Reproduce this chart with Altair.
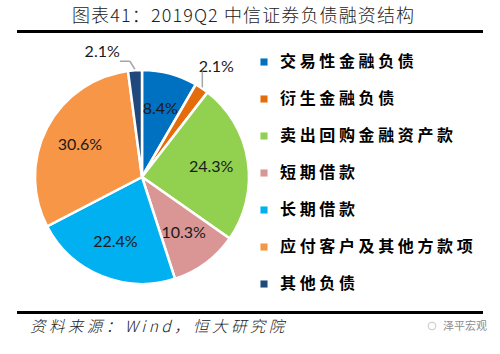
import altair as alt
import pandas as pd

categories = ["交易性金融负债", "衍生金融负债", "卖出回购金融资产款", "短期借款",
              "长期借款", "应付客户及其他方款项", "其他负债"]
values = [8.4, 2.1, 24.3, 10.3, 22.4, 30.6, 2.1]
labels = ["8.4%", "2.1%", "24.3%", "10.3%", "22.4%", "30.6%", "2.1%"]
colors = ["#0070C0", "#E46C0A", "#92D050", "#D99694", "#00B0F0", "#F79646", "#1F497D"]
title_text = "图表41：2019Q2 中信证券负债融资结构"
source_text = "资料来源：Wind，恒大研究院"
watermark = "泽平宏观"

df = pd.DataFrame({"cat": categories, "value": values, "label": labels,
                   "idx": list(range(len(categories)))})

CX, CY, R = 142, 177, 107
CJK = "Noto Sans CJK SC"

color = alt.Color(
    "cat:N",
    scale=alt.Scale(domain=categories, range=colors),
    sort=categories,
    legend=alt.Legend(
        orient="none", legendX=256, legendY=54, title=None,
        symbolType="square", symbolSize=50, symbolStrokeWidth=0,
        labelFont=CJK, labelFontSize=16, labelFontWeight="bold", labelColor="#000000",
        labelLimit=300, rowPadding=21, labelOffset=8,
        labelExpr="join(split(datum.label, ''), ' ')",
    ),
)

base = alt.Chart(df).encode(
    theta=alt.Theta("value:Q", stack=True),
    order=alt.Order("idx:Q"),
    x=alt.value(CX),
    y=alt.value(CY),
)

arcs = base.mark_arc(outerRadius=R, stroke="white", strokeWidth=2.5).encode(color=color)

inner = base.transform_calculate(
    t="datum.value > 5 ? datum.label : ''"
).mark_text(radius=70, font="Lato", fontSize=16, color="#1a1a1a").encode(text="t:N")

outer1 = base.transform_calculate(
    t="datum.idx == 1 ? datum.label : ''"
).mark_text(radius=133, font="Lato", fontSize=16, color="#1a1a1a").encode(text="t:N")

outer2 = base.transform_calculate(
    t="datum.idx == 6 ? datum.label : ''"
).mark_text(radius=125, font="Lato", fontSize=16, color="#1a1a1a",
            align="right", dx=-14).encode(text="t:N")

lead = alt.Chart(df).transform_joinaggregate(
    total="sum(value)"
).transform_window(
    cum="sum(value)", sort=[alt.SortField("idx")], frame=[None, 0]
).transform_calculate(
    a="2*PI*(datum.cum - datum.value/2)/datum.total"
).transform_filter("datum.value < 5").transform_calculate(
    x1=f"{CX} + {R + 1}*sin(datum.a)",
    y1=f"{CY} - {R + 1}*cos(datum.a)",
).transform_calculate(
    x2="datum.idx == 1 ? datum.x1 : datum.x1 - 5",
    y2="datum.idx == 1 ? datum.y1 - 16 : datum.y1 - 8",
).transform_calculate(
    x3="datum.idx == 1 ? datum.x2 : datum.x2 - 10",
)

lead1 = lead.mark_rule(color="#A6A6A6", strokeWidth=1.5).encode(
    x=alt.X("x1:Q", scale=None, axis=None), y=alt.Y("y1:Q", scale=None, axis=None),
    x2="x2:Q", y2="y2:Q",
)
lead2 = lead.mark_rule(color="#A6A6A6", strokeWidth=1.5).encode(
    x=alt.X("x2:Q", scale=None, axis=None), y=alt.Y("y2:Q", scale=None, axis=None),
    x2="x3:Q",
)

one = pd.DataFrame({"t": [title_text], "s": [source_text], "w": [watermark]})

title = alt.Chart(one).transform_calculate(
    t2="join(split(datum.t, ''), '\u200a')"
).mark_text(font=CJK, fontSize=18, fontWeight=300, color="#222222",
            align="left").encode(
    text="t2:N", x=alt.value(72), y=alt.value(17))
top_rule = alt.Chart(one).mark_rule(color="black", strokeWidth=3).encode(
    x=alt.value(17), x2=alt.value(483), y=alt.value(31.5))
bottom_rule = alt.Chart(one).mark_rule(color="black", strokeWidth=3).encode(
    x=alt.value(17), x2=alt.value(483), y=alt.value(312.5))
source = alt.Chart(one).transform_calculate(
    s2="join(split(datum.s, ''), ' ')"
).mark_text(font=CJK, fontSize=15.5, fontStyle="italic", fontWeight=300, color="#222222",
            align="left").encode(
    text="s2:N", x=alt.value(30), y=alt.value(327))
wm = alt.Chart(one).mark_text(font=CJK, fontSize=11, color="#8c8c8c", align="left").encode(
    text="w:N", x=alt.value(443), y=alt.value(327))
icon = alt.Chart(one).mark_point(shape="circle", size=60, stroke="#b0b0b0",
                                 strokeWidth=1, filled=False).encode(
    x=alt.value(432), y=alt.value(326))

chart = alt.layer(
    arcs, inner, outer1, outer2, lead1, lead2, title, top_rule, bottom_rule, source, wm, icon
).properties(
    width=500, height=354, padding=0, autosize="none", background="white"
).configure_view(stroke=None)

chart.save("out.html", embed_options={"renderer": "svg", "actions": False})
